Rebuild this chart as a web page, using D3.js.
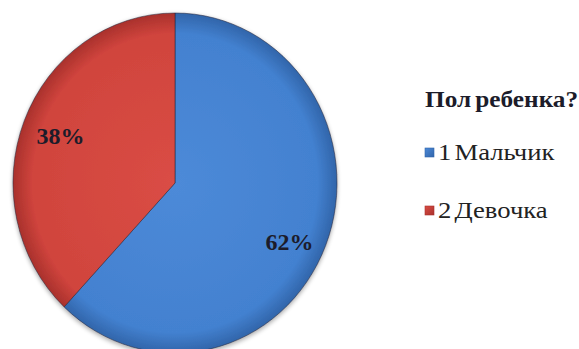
<!DOCTYPE html>
<html>
<head>
<meta charset="utf-8">
<script src="https://cdn.jsdelivr.net/npm/d3@7"></script>
<style>
  html, body { margin: 0; padding: 0; background: #ffffff; }
  svg { display: block; }
</style>
</head>
<body>
<svg id="chart" width="579" height="349"></svg>
<script>
// Survey answers: child's sex
const legendTitle = "Пол ребенка?";
const categories = ["1 Мальчик", "2 Девочка"];
const values = [62, 38];
const percentLabels = ["62%", "38%"];

const serif = '"Liberation Serif"';
const colors = {
  "1 Мальчик": { light: "#4d8ad8", base: "#4381d0", dark: "#3165aa" },
  "2 Девочка": { light: "#da4d45", base: "#d0443d", dark: "#a9312c" }
};

const svg = d3.select("#chart");
const defs = svg.append("defs");

// Pie geometry (drawn as a circle, stretched slightly into an ellipse)
const cx = 175, cy = 183, ry = 170, rx = 162;
const pieData = categories.map((c, i) => ({ name: c, value: values[i], label: percentLabels[i] }));

const pie = d3.pie().sort(null).value(d => d.value).startAngle(0).endAngle(2 * Math.PI);
const arcs = pie(pieData);
const arc = d3.arc().innerRadius(0).outerRadius(ry);

// Soft radial shading per slice
categories.forEach((c, i) => {
  const g = defs.append("radialGradient")
    .attr("id", "grad" + i)
    .attr("gradientUnits", "userSpaceOnUse")
    .attr("cx", 0).attr("cy", 0).attr("r", ry);
  g.append("stop").attr("offset", "0%").attr("stop-color", colors[c].light);
  g.append("stop").attr("offset", "88%").attr("stop-color", colors[c].base);
  g.append("stop").attr("offset", "100%").attr("stop-color", colors[c].dark);
});

const shadow = defs.append("filter").attr("id", "shadow")
  .attr("x", "-10%").attr("y", "-10%").attr("width", "120%").attr("height", "120%");
shadow.append("feGaussianBlur").attr("in", "SourceAlpha").attr("stdDeviation", 2.5);
shadow.append("feOffset").attr("dx", 0).attr("dy", 2).attr("result", "blur");
shadow.append("feComponentTransfer").append("feFuncA").attr("type", "linear").attr("slope", 0.35);
const merge = shadow.append("feMerge");
merge.append("feMergeNode");
merge.append("feMergeNode").attr("in", "SourceGraphic");

const pieG = svg.append("g")
  .attr("transform", `translate(${cx},${cy}) scale(${rx / ry},1)`)
  .attr("filter", "url(#shadow)");

pieG.selectAll("path.slice")
  .data(arcs)
  .join("path")
  .attr("class", "slice")
  .attr("d", arc)
  .attr("fill", (d, i) => `url(#grad${i})`)
  .attr("stroke", "rgba(40,40,60,0.55)")
  .attr("stroke-width", 1);

// Percent labels inside the slices
const labelArc = d3.arc().innerRadius(ry * 0.76).outerRadius(ry * 0.76);
const labelG = svg.append("g").attr("transform", `translate(${cx},${cy})`);
labelG.selectAll("text.pct")
  .data(arcs)
  .join("text")
  .attr("class", "pct")
  .attr("x", d => labelArc.centroid(d)[0] * rx / ry)
  .attr("y", d => labelArc.centroid(d)[1])
  .attr("dy", d => (d.data.value > 50 ? "0.8em" : "0.35em"))
  .attr("text-anchor", "middle")
  .style("font-family", serif)
  .style("font-weight", "bold")
  .style("font-size", "24px")
  .attr("fill", "#1c1c2a")
  .text(d => d.data.label);

// Legend (text is set slightly wide)
const legend = svg.append("g").attr("transform", "translate(425,0)");
legend.append("text")
  .attr("transform", "translate(0,107) scale(1.1,1)")
  .style("font-family", serif)
  .style("font-weight", "bold")
  .style("font-size", "23px")
  .style("word-spacing", "-2px")
  .attr("fill", "#1c1c2a")
  .text(legendTitle);

const legendY = d3.scalePoint().domain(categories).range([160, 218]);

categories.forEach((c, i) => {
  const lg = defs.append("linearGradient").attr("id", "lg" + i)
    .attr("x1", 0).attr("y1", 0).attr("x2", 1).attr("y2", 1);
  lg.append("stop").attr("offset", "0%").attr("stop-color", colors[c].light);
  lg.append("stop").attr("offset", "100%").attr("stop-color", colors[c].dark);
});

const items = legend.selectAll("g.item")
  .data(categories)
  .join("g")
  .attr("class", "item")
  .attr("transform", d => `translate(0,${legendY(d)})`);

items.append("rect")
  .attr("x", 0).attr("y", -12)
  .attr("width", 9).attr("height", 9)
  .attr("fill", (d, i) => `url(#lg${i})`)
  .attr("stroke", (d) => colors[d].dark)
  .attr("stroke-width", 0.6);

items.append("text")
  .attr("transform", "translate(13,0) scale(1.16,1)")
  .style("font-family", serif)
  .style("font-size", "23px")
  .style("word-spacing", "-3px")
  .attr("fill", "#222")
  .text(d => d);
</script>
</body>
</html>
